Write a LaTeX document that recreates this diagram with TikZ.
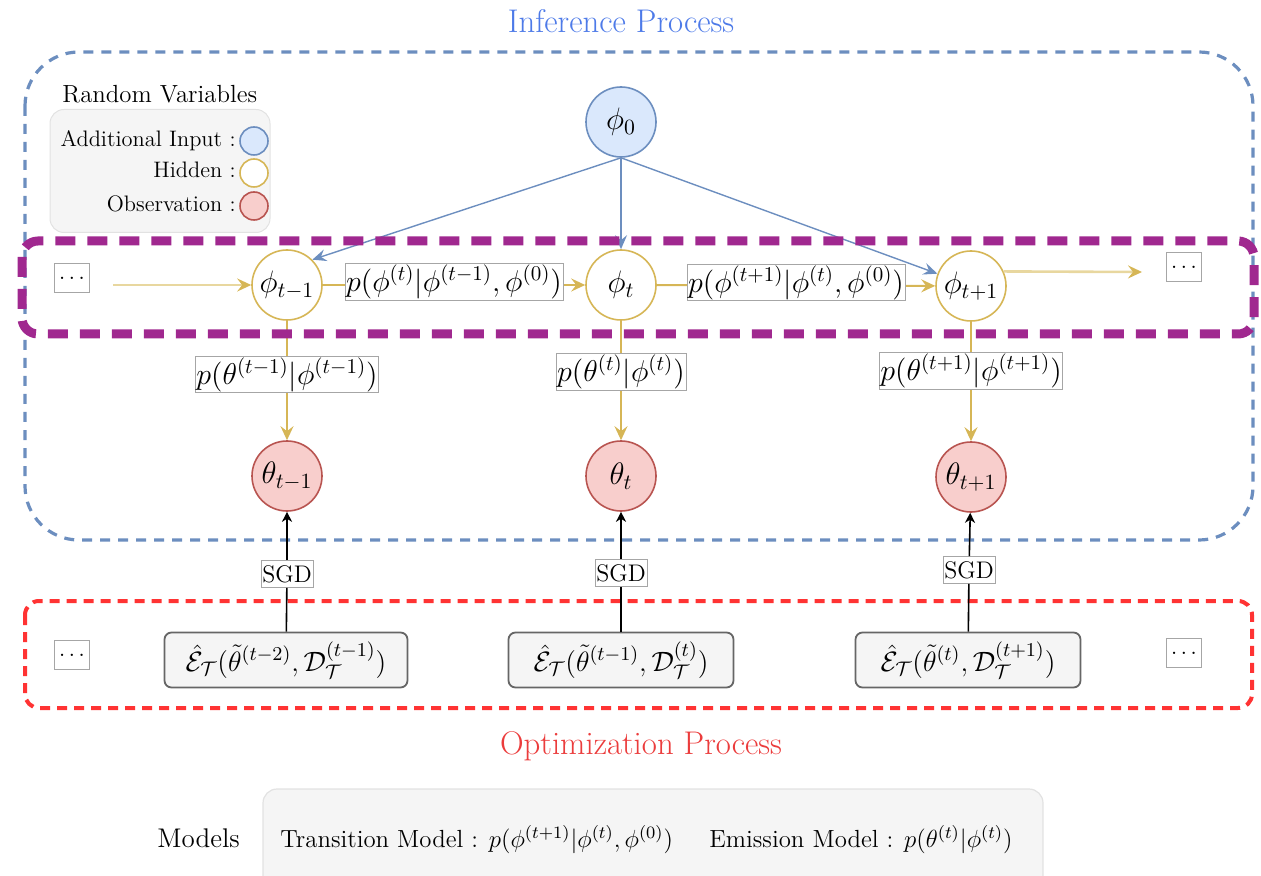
\RequirePackage{fix-cm}
\documentclass[tikz,border=0pt]{standalone}
\usetikzlibrary{arrows.meta}
\definecolor{bluestroke}{HTML}{6C8EBF}
\definecolor{bluefill}{HTML}{DAE8FC}
\definecolor{goldstroke}{HTML}{D6B656}
\definecolor{palegold}{HTML}{E8D79F}
\definecolor{redstroke}{HTML}{B85450}
\definecolor{redfill}{HTML}{F8CECC}
\definecolor{purplecont}{HTML}{A0288F}
\definecolor{redcont}{HTML}{FF3333}
\definecolor{infblue}{HTML}{4D7AE8}
\definecolor{optred}{HTML}{EB3C3C}
\definecolor{boxgray}{HTML}{F5F5F5}
\definecolor{lightborder}{HTML}{E2E2E2}
\begin{document}
\begin{tikzpicture}[x=0.5pt,y=-0.5pt,
  bluecontainer/.style={draw=bluestroke, line width=1.6pt, dash pattern=on 5pt off 4pt, rounded corners=27pt},
  purplecontainer/.style={draw=purplecont, line width=4.5pt, dash pattern=on 10pt off 6pt, rounded corners=8pt},
  redcontainer/.style={draw=redcont, line width=2pt, dash pattern=on 5pt off 3.5pt, rounded corners=7pt},
  rvnode/.style={circle, line width=0.8pt, minimum size=35pt, inner sep=0pt, font=\fontsize{15.5}{18}\selectfont},
  inputnode/.style={rvnode, draw=bluestroke, fill=bluefill},
  hiddennode/.style={rvnode, draw=goldstroke, fill=white},
  obsnode/.style={rvnode, draw=redstroke, fill=redfill},
  legcircle/.style={minimum size=14pt},
  lbl/.style={fill=white, draw=black!35, line width=0.4pt, inner sep=0.6pt, font=\fontsize{15}{17}\selectfont},
  dotsbox/.style={draw=black!35, fill=white, line width=0.4pt, inner sep=0pt, minimum width=17.5pt, minimum height=14.5pt, font=\fontsize{11}{13}\selectfont},
  sgdbox/.style={draw=black!35, fill=white, line width=0.4pt, inner sep=0.6pt, minimum width=25pt, minimum height=13.5pt, font=\fontsize{12}{14}\selectfont},
  ebox/.style={draw=black!60, fill=boxgray, line width=0.9pt, rounded corners=3.5pt, minimum height=27.5pt, inner sep=1pt, font=\fontsize{14}{16}\selectfont},
  goldedge/.style={draw=goldstroke, line width=1pt, -{Stealth[length=7pt,width=6.5pt,inset=2.5pt]}},
  paleedge/.style={draw=palegold, line width=1.3pt, -{Stealth[length=7pt,width=6.5pt,inset=2.5pt,color=goldstroke]}},
  blueedge/.style={draw=bluestroke, line width=0.7pt, -{Stealth[length=7pt,width=6pt,inset=2.5pt]}},
  blackedge/.style={draw=black, line width=0.8pt},
  blackarrow/.style={draw=black, line width=0.8pt, -{Stealth[length=5pt,width=5pt,inset=1.5pt]}},
  titletext/.style={font=\fontsize{16.4}{19}\selectfont, anchor=base},
]
\useasboundingbox (0,0) rectangle (1261,876);
\clip (0,0) rectangle (1261,876);

% containers
\draw[bluecontainer] (25,52) rectangle (1253,540);
\draw[redcontainer] (25,601) rectangle (1252,708);

% titles
\node[titletext, text=infblue] (inftitle) at (621,33) {Inference Process};
\node[titletext, text=optred] (opttitle) at (641,754) {Optimization Process};

% legend
\node[font=\fontsize{12.4}{14}\selectfont, anchor=base west, inner sep=0pt] (rvtitle) at (62,103) {Random Variables};
\node[draw=lightborder, fill=boxgray, line width=0.5pt, rounded corners=7pt, minimum width=110pt, minimum height=61.5pt] (legbox) at (160,171) {};
\node[font=\fontsize{11.2}{13}\selectfont, anchor=base east, inner sep=0pt] (leg1) at (236,147) {Additional Input :};
\node[font=\fontsize{11.2}{13}\selectfont, anchor=base east, inner sep=0pt] (leg2) at (236,178) {Hidden :};
\node[font=\fontsize{11.2}{13}\selectfont, anchor=base east, inner sep=0pt] (leg3) at (236,212) {Observation :};
\node[inputnode, legcircle] (legc1) at (254,141) {};
\node[hiddennode, legcircle] (legc2) at (254,173) {};
\node[obsnode, legcircle] (legc3) at (254,206) {};

% main nodes
\node[inputnode] (p0) at (621,122) {$\phi_0$};
\node[hiddennode] (pm1) at (287,285) {$\phi_{t-1}$};
\node[hiddennode] (pt) at (621,285) {$\phi_t$};
\node[hiddennode] (pp1) at (971,286) {$\phi_{t+1}$};
\node[obsnode] (thm1) at (287,476) {$\theta_{t-1}$};
\node[obsnode] (tht) at (621,476) {$\theta_t$};
\node[obsnode] (thp1) at (971,477) {$\theta_{t+1}$};

% dots
\node[dotsbox] (dl1) at (72,278) {$\dots$};
\node[dotsbox] (dr1) at (1184,267) {$\dots$};
\node[dotsbox] (dl2) at (72,655) {$\dots$};
\node[dotsbox] (dr2) at (1184,653) {$\dots$};
\coordinate (inL) at (113,285);
\coordinate (outR) at (1142,272);

% blue edges
\draw[blueedge] (p0.south) -- (pm1.north east);
\draw[blueedge] (p0.south) -- (pt.north);
\draw[blueedge] (p0.south) -- (pp1);

% outer pale edges
\draw[paleedge] (inL) -- (pm1);
\draw[paleedge] (pp1.24) -- (outR);

% transitions
\draw[goldedge] (pm1) -- (pt) node[lbl, midway, yshift=1.5pt] (tl1) {$p(\phi^{(t)}|\phi^{(t-1)},\phi^{(0)})$};
\draw[goldedge] (pt) -- (pp1) node[lbl, midway, yshift=1.5pt] (tl2) {$p(\phi^{(t+1)}|\phi^{(t)},\phi^{(0)})$};

% emissions
\draw[goldedge] (pm1) -- (thm1) node[lbl, pos=0.45] (el1) {$p(\theta^{(t-1)}|\phi^{(t-1)})$};
\draw[goldedge] (pt) -- (tht) node[lbl, pos=0.43] (el2) {$p(\theta^{(t)}|\phi^{(t)})$};
\draw[goldedge] (pp1) -- (thp1) node[lbl, pos=0.41] (el3) {$p(\theta^{(t+1)}|\phi^{(t+1)})$};

% purple container
\draw[purplecontainer] (22,241) rectangle (1254,334);

% optimization
\node[sgdbox] (s1) at (287,574) {SGD};
\node[sgdbox] (s2) at (621,573) {SGD};
\node[sgdbox] (s3) at (969,570) {SGD};
\node[ebox, minimum width=121.5pt] (e1) at (286,660) {$\hat{\mathcal{E}}_{\mathcal{T}}(\tilde{\theta}^{(t-2)},\mathcal{D}_{\mathcal{T}}^{(t-1)})$};
\node[ebox, minimum width=112.5pt] (e2) at (621,660) {$\hat{\mathcal{E}}_{\mathcal{T}}(\tilde{\theta}^{(t-1)},\mathcal{D}_{\mathcal{T}}^{(t)})$};
\node[ebox, minimum width=112.5pt] (e3) at (968,660) {$\hat{\mathcal{E}}_{\mathcal{T}}(\tilde{\theta}^{(t)},\mathcal{D}_{\mathcal{T}}^{(t+1)})$};
\draw[blackedge] (e1) -- (s1);
\draw[blackedge] (e2) -- (s2);
\draw[blackedge] (e3) -- (s3);
\draw[blackarrow] (s1) -- (thm1);
\draw[blackarrow] (s2) -- (tht);
\draw[blackarrow] (s3) -- (thp1);

% models
\node[font=\fontsize{13.5}{16}\selectfont, anchor=base west, inner sep=0pt] (modlbl) at (157,847) {Models};
\draw[draw=lightborder, fill=boxgray, line width=0.6pt, rounded corners=7pt] (263,789) rectangle (1043,910);
\node[font=\fontsize{12.4}{14}\selectfont, anchor=base west, inner sep=0pt] (transm) at (280,847) {Transition Model : $p(\phi^{(t+1)}|\phi^{(t)},\phi^{(0)})$};
\node[font=\fontsize{12.4}{14}\selectfont, anchor=base west, inner sep=0pt] (emism) at (709,847) {Emission Model : $p(\theta^{(t)}|\phi^{(t)})$};
\end{tikzpicture}
\end{document}
